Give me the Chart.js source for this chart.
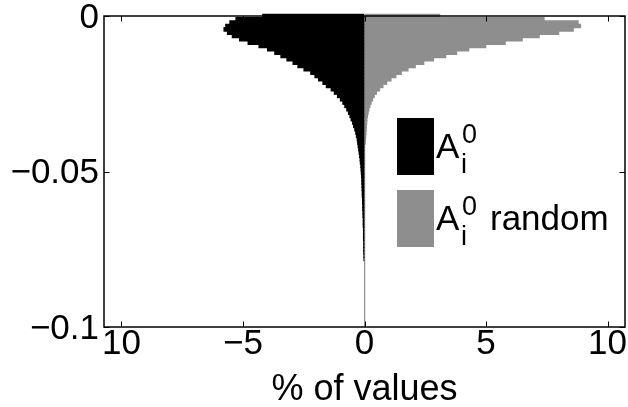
<!DOCTYPE html>
<html>
<head>
<meta charset="utf-8">
<script src="https://cdn.jsdelivr.net/npm/chart.js"></script>
<style>
  html, body { margin: 0; padding: 0; background: #fff; }
  #histo { display: block; }
</style>
</head>
<body>
<canvas id="histo" width="628" height="407"></canvas>
<script>
// ===== Dados
// centro de cada classe no eixo vertical (valor de A)
const binCenters = [
  0, -0.00107, -0.00214, -0.00321, -0.00428, -0.00535, -0.00642, -0.00749, -0.00856, -0.00963,
  -0.0107, -0.01177, -0.01284, -0.01391, -0.01498, -0.01605, -0.01712, -0.01819, -0.01926, -0.02033,
  -0.0214, -0.02247, -0.02354, -0.02461, -0.02568, -0.02675, -0.02782, -0.02889, -0.02996, -0.03103,
  -0.0321, -0.03317, -0.03424, -0.03531, -0.03638, -0.03745, -0.03852, -0.03959, -0.04066, -0.04173,
  -0.0428, -0.04387, -0.04494, -0.04601, -0.04708, -0.04815, -0.04922, -0.05029, -0.05136, -0.05243,
  -0.0535, -0.05457, -0.05564, -0.05671, -0.05778, -0.05885, -0.05992, -0.06099, -0.06206, -0.06313,
  -0.0642, -0.06527, -0.06634, -0.06741, -0.06848, -0.06955, -0.07062, -0.07169, -0.07276, -0.07383,
  -0.0749, -0.07597, -0.07704, -0.07811
];

// % de valores por classe — A_i^0 (desenhado para a esquerda)
const pctA = [
  4.2, 5.3, 5.55, 5.72, 5.79, 5.65, 5.45, 5.15, 4.8, 4.35,
  4.0, 3.7, 3.45, 3.2, 2.95, 2.75, 2.5, 2.22, 2.05, 1.9,
  1.72, 1.58, 1.38, 1.25, 1.12, 1.0, 0.9, 0.82, 0.74, 0.67,
  0.61, 0.56, 0.5, 0.46, 0.41, 0.37, 0.34, 0.31, 0.29, 0.27,
  0.25, 0.23, 0.21, 0.19, 0.18, 0.16, 0.15, 0.14, 0.13, 0.12,
  0.12, 0.11, 0.11, 0.1, 0.1, 0.09, 0.09, 0.08, 0.08, 0.07,
  0.07, 0.06, 0.06, 0.06, 0.05, 0.05, 0.05, 0.05, 0.04, 0.04,
  0.04, 0.04, 0.03, 0.03
];

// % de valores por classe — A_i^0 random (desenhado para a direita)
const pctRandom = [
  3.1, 7.4, 8.8, 8.9, 8.6, 8.0, 7.2, 6.5, 5.8, 5.0,
  4.3, 3.8, 3.35, 2.85, 2.45, 2.1, 1.8, 1.52, 1.3, 1.1,
  0.92, 0.77, 0.63, 0.5, 0.41, 0.34, 0.28, 0.23, 0.19, 0.16,
  0.13, 0.11, 0.1, 0.09, 0.08, 0.07, 0.06, 0.05, 0.04, 0,
  0, 0, 0, 0, 0, 0, 0, 0, 0, 0,
  0, 0, 0, 0, 0, 0, 0, 0, 0, 0,
  0, 0, 0, 0, 0, 0, 0, 0, 0, 0,
  0, 0, 0, 0
];

const seriesLabels = ['A_i^0', 'A_i^0 random'];
const xTickValues = [-10, -5, 0, 5, 10];
const xTickLabels = ['10', '\u22125', '0', '5', '10'];
const yTickValues = [-0.1, -0.05, 0];
const yTickLabels = ['\u22120.1', '\u22120.05', '0'];
const xTitle = '% of values';

// ===== Estilo
const FONT = '"Liberation Sans", Arial, Helvetica, sans-serif';
const colors = { a: '#000000', random: '#8e8e8e', axis: '#000000', zero: '#8e8e8e' };
Chart.defaults.font.family = FONT;
Chart.defaults.color = '#000';

// ===== Plugin: caixa fechada com marcas internas (estilo MATLAB)
const boxPlugin = {
  id: 'boxPlugin',
  afterDatasetsDraw(chart) {
    const { ctx, chartArea: a, scales: { x, y } } = chart;
    const L = 5.5;
    ctx.save();
    ctx.strokeStyle = colors.axis;
    ctx.lineWidth = 1;
    ctx.beginPath();
    xTickValues.forEach(v => {
      const px = Math.round(x.getPixelForValue(v)) + 0.5;
      ctx.moveTo(px, a.bottom); ctx.lineTo(px, a.bottom - L);
      ctx.moveTo(px, a.top); ctx.lineTo(px, a.top + L);
    });
    yTickValues.forEach(v => {
      const py = Math.round(y.getPixelForValue(v)) + 0.5;
      ctx.moveTo(a.left, py); ctx.lineTo(a.left + L, py);
      ctx.moveTo(a.right, py); ctx.lineTo(a.right - L, py);
    });
    ctx.stroke();
    ctx.lineWidth = 1.5;
    ctx.strokeRect(a.left, a.top, a.right - a.left, a.bottom - a.top);
    ctx.restore();
  }
};

// ===== Plugin: legenda com índice e expoente (A_i^0)
const legendPlugin = {
  id: 'legendPlugin',
  afterDraw(chart) {
    const { ctx } = chart;
    ctx.save();
    chart.data.datasets.forEach((ds, i) => {
      const top = 118 + i * 72;
      ctx.fillStyle = ds.backgroundColor;
      ctx.fillRect(397, top, 37, 57);

      const m = /^(\w)_(\w)\^(\w)\s*(.*)$/.exec(ds.label);
      const base = top + 40;
      ctx.fillStyle = '#000';
      ctx.textBaseline = 'alphabetic';
      ctx.textAlign = 'left';
      ctx.font = '35px ' + FONT;
      ctx.fillText(m[1], 436, base);
      ctx.font = '27px ' + FONT;
      ctx.fillText(m[3], 462, base - 15);
      ctx.fillText(m[2], 461, base + 15);
      if (m[4]) {
        ctx.font = '35px ' + FONT;
        ctx.fillText(m[4], 490, base);
      }
    });
    ctx.restore();
  }
};

const canvas = document.getElementById('histo');
new Chart(canvas.getContext('2d'), {
  type: 'bar',
  data: {
    datasets: [
      {
        label: seriesLabels[0],
        data: binCenters.map((c, i) => ({ x: -pctA[i], y: c })),
        backgroundColor: colors.a,
        grouped: false,
        barThickness: 4,
        borderWidth: 0,
        clip: false
      },
      {
        label: seriesLabels[1],
        data: binCenters.map((c, i) => ({ x: pctRandom[i], y: c })),
        backgroundColor: colors.random,
        grouped: false,
        barThickness: 4,
        borderWidth: 0,
        clip: false
      }
    ]
  },
  options: {
    indexAxis: 'y',
    responsive: false,
    animation: false,
    events: [],
    layout: { padding: { left: 0, top: 16, right: 3, bottom: 0 } },
    plugins: { legend: { display: false }, tooltip: { enabled: false } },
    scales: {
      x: {
        type: 'linear',
        min: -10.72,
        max: 10.72,
        border: { display: false },
        grid: {
          drawTicks: false,
          lineWidth: 1.2,
          color: c => (c.tick && c.tick.value === 0 ? colors.zero : 'rgba(0,0,0,0)')
        },
        afterBuildTicks: s => { s.ticks = xTickValues.map(v => ({ value: v })); },
        ticks: {
          autoSkip: false,
          maxRotation: 0,
          padding: 0,
          color: '#000',
          font: { size: 35, lineHeight: 1 },
          callback: (v, i) => xTickLabels[i]
        },
        title: {
          display: true,
          text: xTitle,
          color: '#000',
          font: { size: 36, lineHeight: 1 },
          padding: { top: 0, bottom: -1 }
        },
        afterFit: s => { s.height = 80; s.paddingLeft = 0; s.paddingRight = 0; }
      },
      y: {
        type: 'linear',
        min: -0.1,
        max: 0,
        offset: false,
        border: { display: false },
        grid: { display: false, drawTicks: false },
        afterBuildTicks: s => { s.ticks = yTickValues.map(v => ({ value: v })); },
        ticks: {
          padding: 5,
          labelOffset: 2,
          color: '#000',
          font: { size: 35, lineHeight: 1 },
          callback: (v, i) => yTickLabels[i]
        },
        afterFit: s => { s.width = 104; s.paddingTop = 0; s.paddingBottom = 0; }
      }
    }
  },
  plugins: [boxPlugin, legendPlugin]
});
</script>
</body>
</html>
